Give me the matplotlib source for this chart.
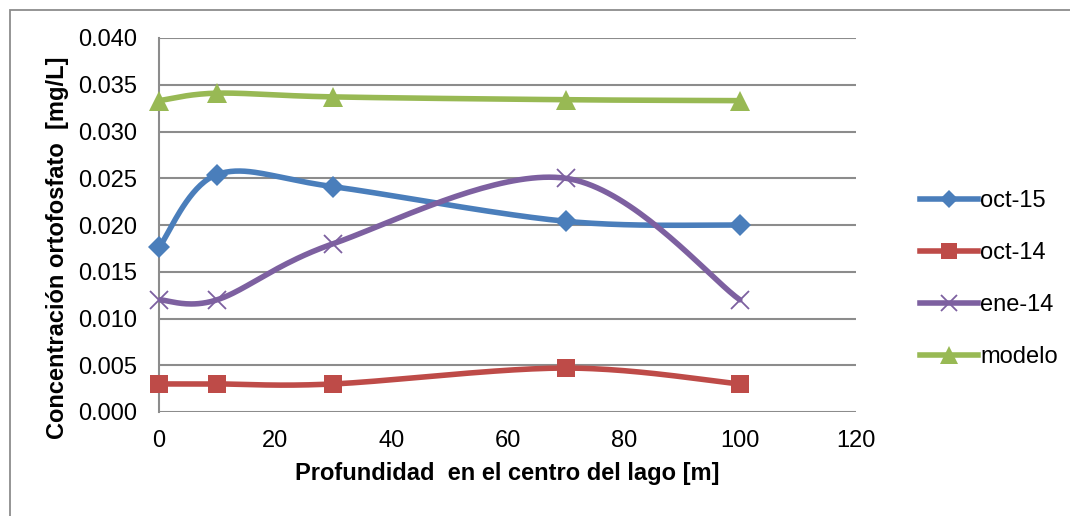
import numpy as np
import matplotlib
matplotlib.use("Agg")
import matplotlib.pyplot as plt
from matplotlib.patches import Rectangle

# Depth (m) and orthophosphate concentration (mg/L)
depth = [0, 10, 30, 70, 100]
oct15 = [0.0176, 0.0254, 0.0241, 0.0204, 0.0200]
oct14 = [0.0030, 0.0030, 0.0030, 0.0047, 0.0030]
ene14 = [0.0120, 0.0120, 0.0180, 0.0250, 0.0120]
modelo = [0.0333, 0.0341, 0.0337, 0.0334, 0.0333]

series_names = ["oct-15", "oct-14", "ene-14", "modelo"]
x_ticks = [0, 20, 40, 60, 80, 100, 120]
y_ticks = [0.000, 0.005, 0.010, 0.015, 0.020, 0.025, 0.030, 0.035, 0.040]

plt.rcParams["font.family"] = ["Liberation Sans", "DejaVu Sans"]


def smooth(xs, ys, n=40):
    """Bezier smoothing of a polyline (Catmull-Rom style, like spreadsheet smoothed lines)."""
    p = np.column_stack([xs, ys]).astype(float)
    ext = np.vstack([p[0], p, p[-1]])
    out = []
    for i in range(len(p) - 1):
        p0, p1 = ext[i + 1], ext[i + 2]
        c1 = p0 + (ext[i + 2] - ext[i]) / 6.0
        c2 = p1 - (ext[i + 3] - ext[i + 1]) / 6.0
        t = np.linspace(0, 1, n)[:, None]
        seg = ((1 - t) ** 3) * p0 + 3 * ((1 - t) ** 2) * t * c1 + 3 * (1 - t) * t ** 2 * c2 + t ** 3 * p1
        out.append(seg if i == 0 else seg[1:])
    out = np.vstack(out)
    return out[:, 0], out[:, 1]


W, H = 1070, 516
fig = plt.figure(figsize=(W / 100, H / 100), dpi=100)

# chart frame
fig.patches.append(Rectangle((10 / W, -0.1), 1.2, (H - 10) / H + 0.1,
                             transform=fig.transFigure, fill=False,
                             edgecolor="#8c8c8c", linewidth=1.3))

ax = fig.add_axes([159 / W, 1 - 412 / H, (856 - 159) / W, (412 - 38) / H])
ax.set_xlim(0, 120)
ax.set_ylim(0, 0.040)
ax.set_xticks(x_ticks)
ax.set_yticks(y_ticks)
ax.set_yticklabels([f"{v:.3f}" for v in y_ticks])
ax.tick_params(length=0, labelsize=17, colors="black")
ax.tick_params(axis="y", pad=16)
ax.tick_params(axis="x", pad=13)
ax.grid(axis="y", color="#8c8c8c", linewidth=1.5)
ax.set_axisbelow(True)
for s in ["top", "right", "bottom"]:
    ax.spines[s].set_visible(False)
ax.spines["left"].set_color("#8c8c8c")
ax.spines["left"].set_linewidth(1.5)

styles = [
    (oct15, "#4a7ebb", "D", 11, None),
    (oct14, "#be4b48", "s", 13, None),
    (ene14, "#7d60a0", "x", 13, 1.3),
    (modelo, "#98b954", "^", 15, None),
]
for name, (vals, col, mk, ms, mew) in zip(series_names, styles):
    sx, sy = smooth(depth, vals)
    ax.plot(sx, sy, color=col, linewidth=4, solid_capstyle="round", zorder=3)
    kw = dict(markeredgewidth=mew) if mew else dict(markeredgewidth=0)
    ax.plot(depth, vals, linestyle="none", marker=mk, markersize=ms,
            color=col, zorder=4, clip_on=False, **kw)
    # legend proxy
    ax.plot([], [], color=col, linewidth=4, marker=mk,
            markersize=ms * 0.85, label=name, **kw)

leg = fig.legend(loc="center left", bbox_to_anchor=(908 / W, 1 - 279 / H),
                 frameon=False, fontsize=17, handlelength=2.45,
                 handletextpad=0.1, labelspacing=1.27, borderpad=0)

ax.set_xlabel("Profundidad  en el centro del lago [m]", fontsize=17,
              fontweight="bold", labelpad=7)
fig.text(58 / W, 1 - 248 / H, "Concentración ortofosfato  [mg/L]",
         fontsize=17, fontweight="bold", rotation=90,
         ha="center", va="center")

fig.savefig("out.png", dpi=100)
